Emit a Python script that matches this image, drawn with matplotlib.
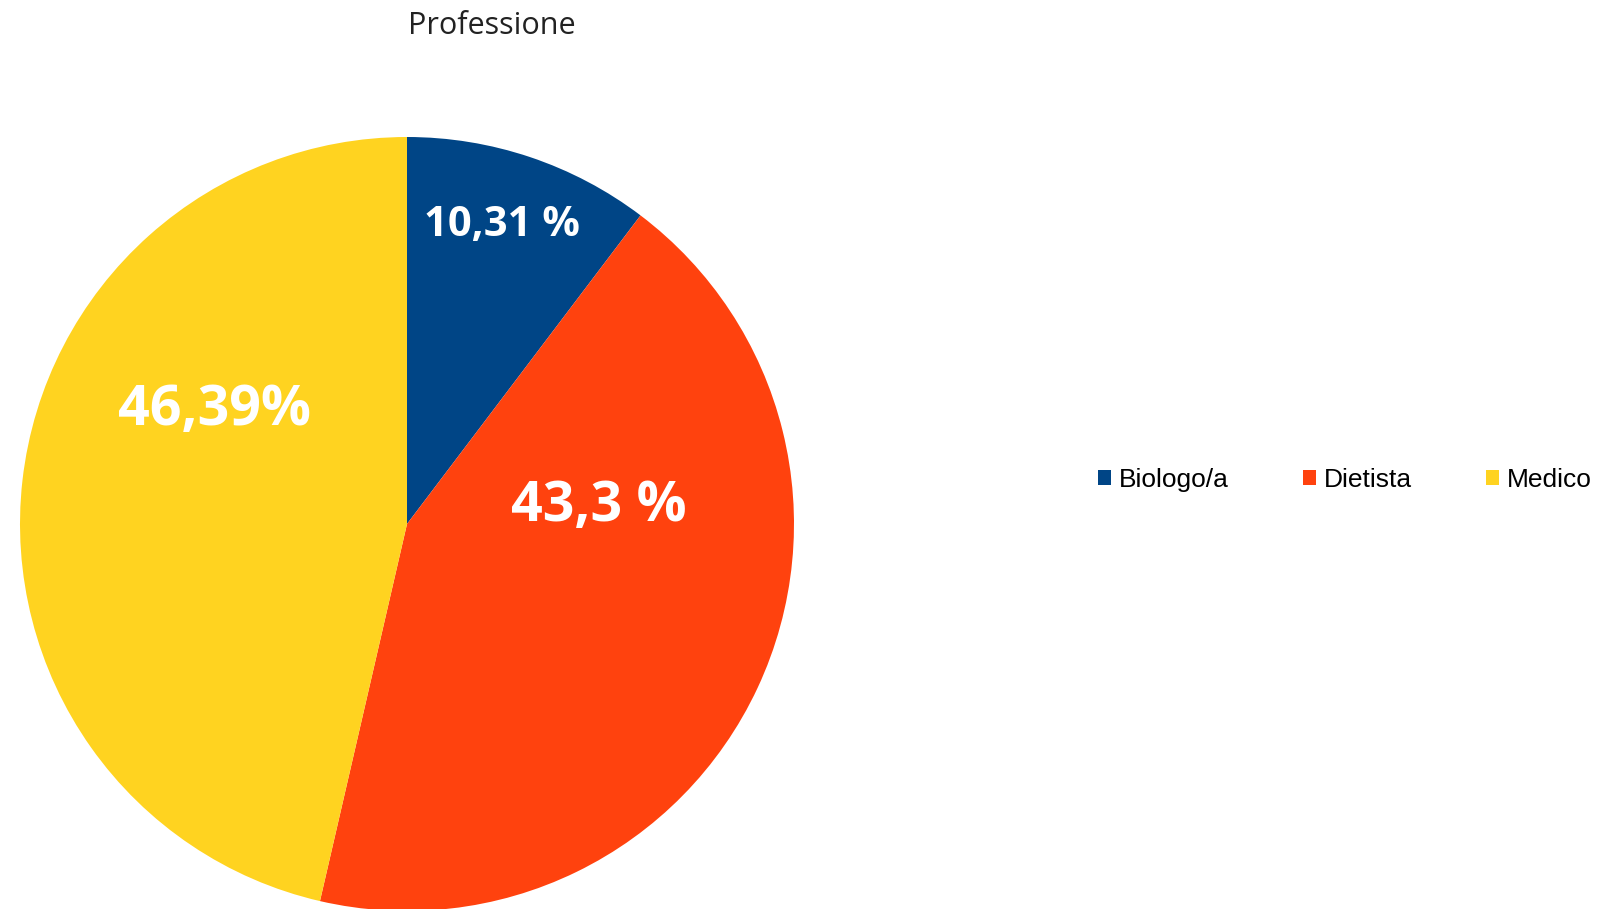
import matplotlib
matplotlib.use("Agg")
import matplotlib.pyplot as plt

# data
categories = ["Biologo/a", "Dietista", "Medico"]
shares = [10.31, 43.3, 46.39]
labels = ["10,31 %", "43,3 %", "46,39%"]
colors = ["#004586", "#FF420E", "#FFD320"]

# label placement in pie units (x, y) and font size
label_pos = [(0.245, 0.772), (0.496, 0.046), (-0.497, 0.292)]
label_size = [30, 40, 40]

W, H = 1611, 909
fig = plt.figure(figsize=(W / 100, H / 100), dpi=100)

# pie axes: centre (407, 524) px, radius 387 px
cx, cy, r = 407, 524, 387
ax = fig.add_axes([(cx - r) / W, (H - cy - r) / H, 2 * r / W, 2 * r / H])
wedges, _ = ax.pie(shares, colors=colors, startangle=90, counterclock=False,
                   radius=1, wedgeprops=dict(linewidth=0))
ax.set_xlim(-1, 1)
ax.set_ylim(-1, 1)
ax.set_aspect("equal")
ax.axis("off")

for (x, y), txt, fs in zip(label_pos, labels, label_size):
    ax.text(x, y, txt, ha="center", va="center", color="white",
            fontsize=fs, fontweight="bold", family="Open Sans")

fig.text(492 / W, 1 - 26 / H, "Professione", ha="center", va="center",
         fontsize=22, family="Open Sans", color="#222222")

fig.legend(wedges, categories, loc="center left",
           bbox_to_anchor=(1098 / W, 1 - 480 / H), ncol=3, frameon=False,
           prop=dict(family="Liberation Sans", size=19),
           handlelength=0.5, handleheight=0.5, handletextpad=0.3,
           columnspacing=2.8, borderpad=0, borderaxespad=0)

fig.savefig("out.png", dpi=100)
